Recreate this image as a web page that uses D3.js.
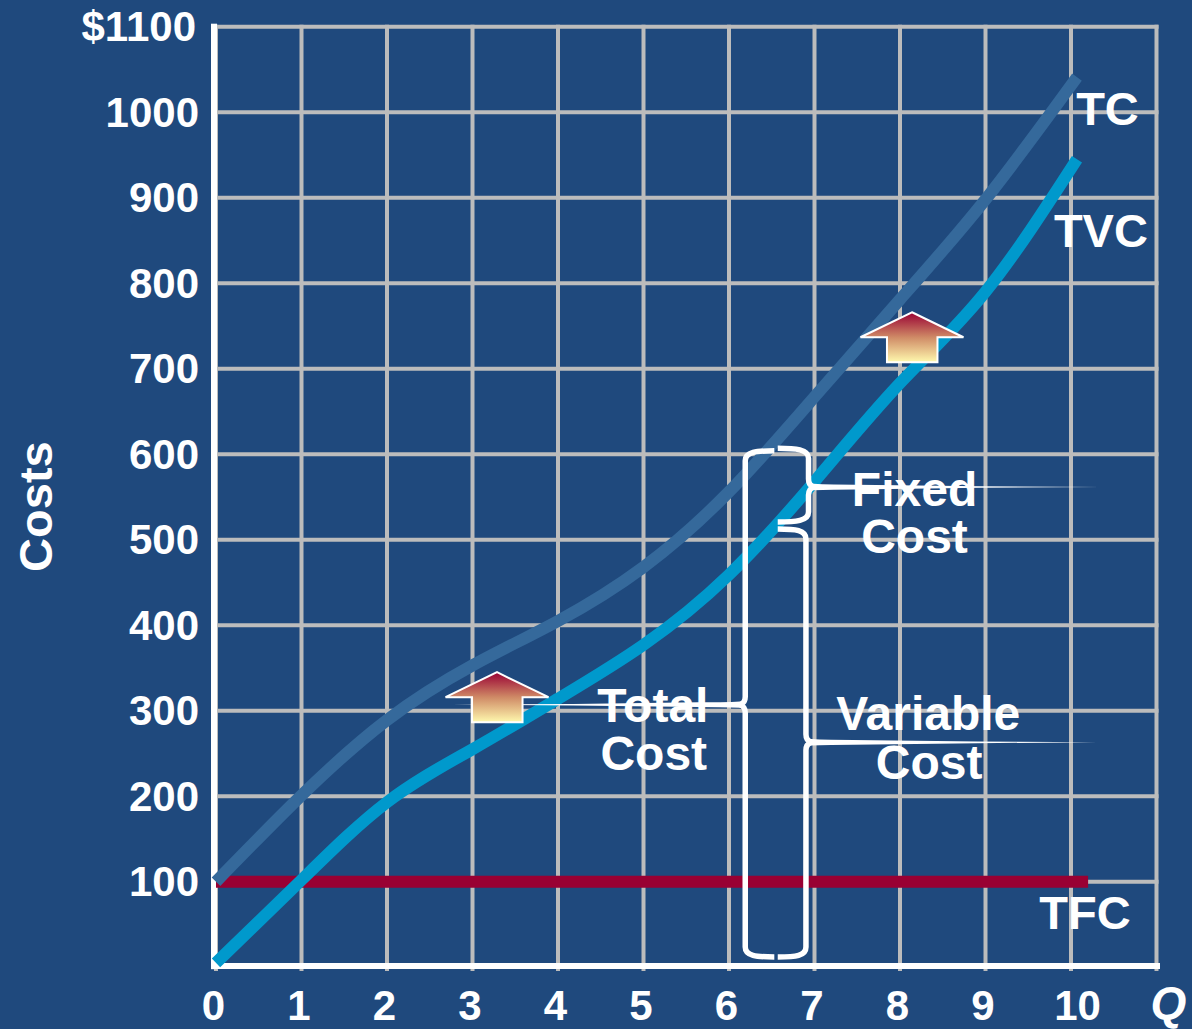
<!DOCTYPE html>
<html>
<head>
<meta charset="utf-8">
<script src="https://cdn.jsdelivr.net/npm/d3@7"></script>
<style>
  html, body { margin: 0; padding: 0; background: #1f497d; }
  svg { display: block; }
  text { font-family: "Liberation Sans", Arial, sans-serif; font-weight: 700; fill: #fff; }
</style>
</head>
<body>
<svg id="chart" width="1192" height="1029"></svg>
<script>
// Short-run cost curves: output along the bottom, dollars up the side.
const quantities = [0, 1, 2, 3, 4, 5, 6, 7, 8, 9, 10.07];
const tvcValues = [5, 102, 193, 255, 314, 377, 459, 568, 683, 790, 945];
const tcValues = [100, 201, 289, 353, 405, 468, 556, 667, 781, 898, 1041];
const tfcQuantities = [0, 10.2];
const tfcValues = [100, 100];
const qTicks = [0, 1, 2, 3, 4, 5, 6, 7, 8, 9, 10];
const costTicks = [100, 200, 300, 400, 500, 600, 700, 800, 900, 1000, 1100];

// Lifted-arrow annotations: [quantity at the tip, cost at the tip]
const arrowTips = [[3.287, 345], [8.14, 766]];

// Brace annotations, all in chart units.
const braces = [
  { side: 6.19, mid: 6.53, top: 604, tip: 307, bottom: 12, dir: -1, far: 2.77 },
  { side: 6.93, mid: 6.57, top: 607, tip: 561.6, bottom: 520.7, dir: 1, far: 10.34 },
  { side: 6.90, mid: 6.57, top: 512.5, tip: 263, bottom: 12, dir: 1, far: 10.30 }
];

// Curve names: [text, quantity, cost]
const curveLabels = [
  ["TC", 10.06, 985],
  ["TVC", 9.8, 842.3],
  ["TFC", 9.63, 44.7]
];

// Brace captions: [text, quantity, cost]
const braceLabels = [
  ["Fixed", 8.17, 539.4],
  ["Cost", 8.17, 484.4],
  ["Variable", 8.33, 277.4],
  ["Cost", 8.34, 220],
  ["Total", 5.11, 286.8],
  ["Cost", 5.12, 230.6]
];

const svg = d3.select("#chart");
const x = d3.scaleLinear().domain([0, 11]).range([216, 1156.5]);
const y = d3.scaleLinear().domain([0, 1100]).range([967.2, 26.7]);

const colors = { grid: "#bcbcbc", tc: "#35699b", tvc: "#0099cc", tfc: "#990033" };

// Arrow fill runs from deep red at the tip to pale yellow at the foot.
const grad = svg.append("defs").append("linearGradient")
  .attr("id", "arrowFill").attr("x1", 0).attr("y1", 0).attr("x2", 0).attr("y2", 1);
grad.append("stop").attr("offset", "0%").attr("stop-color", "#990033");
grad.append("stop").attr("offset", "50%").attr("stop-color", "#cf8a66");
grad.append("stop").attr("offset", "100%").attr("stop-color", "#fff9ae");

// Grid
const grid = svg.append("g");
grid.selectAll("line.v").data(qTicks.concat(11)).join("line")
  .attr("x1", d => x(d)).attr("x2", d => x(d))
  .attr("y1", y(1100) - 2).attr("y2", y(0) + 3.8)
  .attr("stroke", colors.grid).attr("stroke-width", 4);
grid.selectAll("line.h").data(costTicks).join("line")
  .attr("x1", x(0) - 2).attr("x2", x(11) + 2)
  .attr("y1", d => y(d)).attr("y2", d => y(d))
  .attr("stroke", colors.grid).attr("stroke-width", 4);

// Main axes sit on top of the grid as heavy white rules.
svg.append("rect").attr("x", x(0) - 5).attr("y", y(1100) - 3).attr("width", 6)
  .attr("height", y(0) - y(1100) + 5).attr("fill", "#fff");
svg.append("rect").attr("x", x(0) - 5).attr("y", y(0) - 4.2).attr("height", 6)
  .attr("width", x(11) - x(0) + 8.5).attr("fill", "#fff");

// Tick labels through the d3 axis generators, with the tick marks hidden.
const xAxis = svg.append("g").attr("transform", `translate(0,${y(0)})`)
  .call(d3.axisBottom(x).tickValues(qTicks).tickSize(0).tickPadding(0));
xAxis.select(".domain").remove();
xAxis.selectAll("text").attr("y", 0).attr("dy", 53).attr("font-size", 42)
  .attr("dx", d => d === 10 ? 6 : -3).attr("fill", null);

const yAxis = svg.append("g").attr("transform", `translate(${x(0)},0)`)
  .call(d3.axisLeft(y).tickValues(costTicks)
    .tickFormat(d => d === 1100 ? "$1100" : d).tickSize(0).tickPadding(0));
yAxis.select(".domain").remove();
yAxis.selectAll("text").attr("x", d => d === 1100 ? -20 : -17).attr("dy", 14)
  .attr("font-size", 42).attr("fill", null);

// Curves
const curveLine = d3.line().x((d, i) => x(quantities[i])).y(d => y(d)).curve(d3.curveNatural);
const tfcLine = d3.line().x((d, i) => x(tfcQuantities[i])).y(d => y(d));
const curves = svg.append("g").attr("fill", "none");
curves.append("path").attr("d", tfcLine(tfcValues)).attr("stroke", colors.tfc).attr("stroke-width", 12);
curves.append("path").attr("d", curveLine(tcValues)).attr("stroke", colors.tc).attr("stroke-width", 12);
curves.append("path").attr("d", curveLine(tvcValues)).attr("stroke", colors.tvc).attr("stroke-width", 12);

// Tapered leader running from a brace tip out to a hairline point.
function leaderPath(b) {
  const tx = x(b.side) + b.dir * 2, ty = y(b.tip), fx = x(b.far);
  const nx = tx + b.dir * 45, sx = tx + b.dir * 170;
  const p = d3.path();
  p.moveTo(tx, ty - 3.5);
  p.quadraticCurveTo(tx + b.dir * 12, ty - 2.4, nx, ty - 2.4);
  p.lineTo(sx, ty - 0.8);
  p.lineTo(fx, ty);
  p.lineTo(sx, ty + 0.8);
  p.lineTo(nx, ty + 2.4);
  p.quadraticCurveTo(tx + b.dir * 12, ty + 2.4, tx, ty + 3.5);
  p.closePath();
  return p.toString();
}

// One half of a curly brace: flat end, shoulder, long side, pointed notch, long side, shoulder.
function bracePath(b) {
  const sx = x(b.side), mx = x(b.mid), t = y(b.top), n = y(b.tip), e = y(b.bottom), d = b.dir;
  const p = d3.path();
  p.moveTo(mx, t);
  p.bezierCurveTo(mx + d * 18, t, sx, t + 1, sx, t + 10);
  p.lineTo(sx, n - 8);
  p.quadraticCurveTo(sx, n - 2, sx + d * 5, n);
  p.quadraticCurveTo(sx, n + 2, sx, n + 8);
  p.lineTo(sx, e - 10);
  p.bezierCurveTo(sx, e - 1, mx + d * 18, e, mx, e);
  return p.toString();
}
const braceLayer = svg.append("g");
braceLayer.selectAll("path.leader").data(braces).join("path")
  .attr("class", "leader").attr("d", leaderPath).attr("fill", "#fff");
braceLayer.selectAll("path.brace").data(braces).join("path")
  .attr("class", "brace").attr("d", bracePath)
  .attr("fill", "none").attr("stroke", "#fff").attr("stroke-width", 5.5);

// Up arrows
function arrowPath([q, v]) {
  const tx = x(q), ty = y(v);
  const p = d3.path();
  p.moveTo(tx, ty);
  p.lineTo(tx + 51.5, ty + 25);
  p.lineTo(tx + 25.5, ty + 25);
  p.lineTo(tx + 25.5, ty + 50);
  p.lineTo(tx - 25, ty + 50);
  p.lineTo(tx - 25, ty + 25);
  p.lineTo(tx - 51.5, ty + 25);
  p.closePath();
  return p.toString();
}
svg.append("g").selectAll("path").data(arrowTips).join("path")
  .attr("d", arrowPath).attr("fill", "url(#arrowFill)")
  .attr("stroke", "#fff").attr("stroke-width", 2);

// Labels
svg.append("g").selectAll("text").data(curveLabels).join("text")
  .attr("x", d => x(d[1])).attr("y", d => y(d[2]))
  .attr("font-size", 47).text(d => d[0]);
svg.append("g").selectAll("text").data(braceLabels).join("text")
  .attr("x", d => x(d[1])).attr("y", d => y(d[2]))
  .attr("text-anchor", "middle").attr("font-size", 48).text(d => d[0]);

svg.append("text").attr("transform", `translate(52,${y(538.7)}) rotate(-90)`)
  .attr("text-anchor", "middle").attr("font-size", 47).text("Costs");
svg.append("text").attr("x", x(10.93)).attr("y", y(-60))
  .attr("font-size", 46).attr("font-style", "italic").text("Q");
</script>
</body>
</html>
